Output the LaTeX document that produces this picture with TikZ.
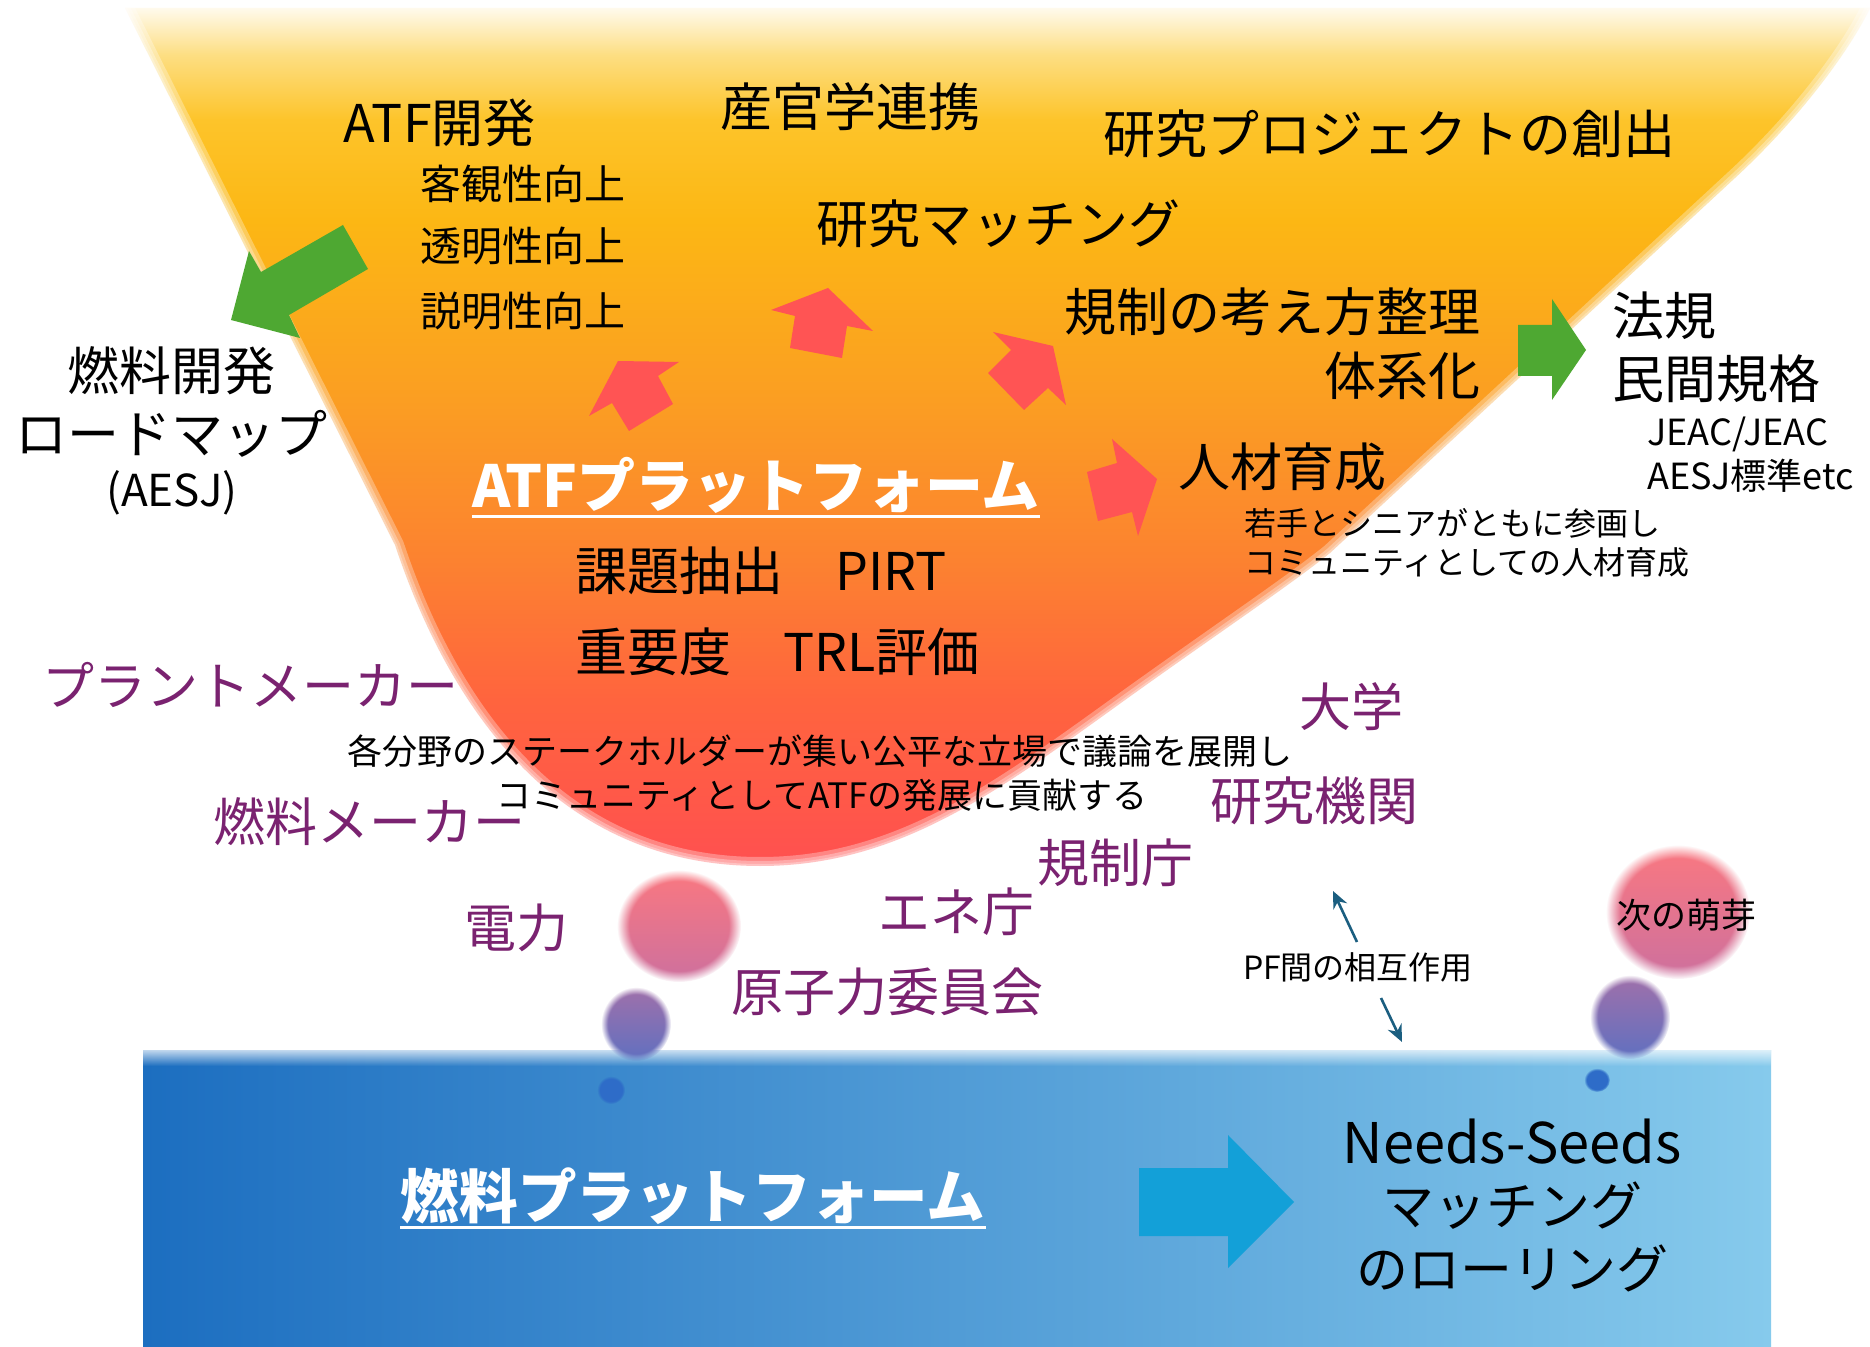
\documentclass[tikz,border=0pt]{standalone}
\usepackage{fontspec}
\setmainfont{Noto Sans CJK JP}
\usetikzlibrary{fadings,arrows.meta}

\definecolor{purp}{RGB}{122,34,112}
\definecolor{redarr}{RGB}{255,84,84}
\definecolor{greenarr}{RGB}{78,168,50}
\definecolor{bluearr}{RGB}{19,160,216}
\definecolor{pfarr}{RGB}{27,94,128}
\definecolor{funA}{RGB}{255,250,236}
\definecolor{funB}{RGB}{253,222,130}
\definecolor{funC}{RGB}{253,196,42}
\definecolor{funD}{RGB}{252,183,20}
\definecolor{funE}{RGB}{251,158,34}
\definecolor{funF}{RGB}{252,130,48}
\definecolor{funG}{RGB}{255,100,62}
\definecolor{funH}{RGB}{255,80,80}
\definecolor{boxL}{RGB}{28,110,192}
\definecolor{boxM}{RGB}{92,158,214}
\definecolor{boxR}{RGB}{134,202,236}
\definecolor{bubPinkT}{RGB}{250,120,128}
\definecolor{bubPinkB}{RGB}{205,112,158}
\definecolor{bubPurT}{RGB}{160,112,170}
\definecolor{bubPurB}{RGB}{96,112,192}
\definecolor{bubDot}{RGB}{46,108,200}

\pgfdeclareverticalshading{funnelshade}{100bp}{color(0bp)=(funH); color(25bp)=(funH); color(34.67bp)=(funG); color(42.83bp)=(funF); color(52.16bp)=(funE); color(62.65bp)=(funD); color(68.47bp)=(funC); color(72.26bp)=(funB); color(75bp)=(funA); color(100bp)=(funA)}

\tikzfading[name=fadeoutdown, top color=transparent!0, bottom color=transparent!100]

\tikzset{
  big/.style={inner sep=0pt, font=\fontsize{26}{30}\selectfont},
  mid/.style={inner sep=0pt, font=\fontsize{20.5}{24}\selectfont},
  small/.style={inner sep=0pt, font=\fontsize{17.5}{21}\selectfont},
  tiny/.style={inner sep=0pt, font=\fontsize{16}{19}\selectfont},
  pur/.style={big, text=purp},
  pftitle/.style={inner sep=0pt, text=white, font=\fontsize{29}{33}\selectfont\bfseries},
  uline/.style={white, line width=1.5pt},
  softedge/.style={draw=white, draw opacity=0.3, line join=round},
  bubble/.style={path fading=circle with fuzzy edge 20 percent},
  pfarrow/.style={draw=pfarr, line width=1.3pt, -{Stealth[length=8.5pt,width=7.5pt]}}
}

\begin{document}
\begin{tikzpicture}[x=0.5pt,y=-0.5pt]
\useasboundingbox (0,0) rectangle (1870,1347);
\fill[white] (0,0) rectangle (1870,1347);

% funnel (ATF platform)
\shade[shading=funnelshade] (125,8) -- (395,545) .. controls (440,680) and (540,866) .. (760,866)
  .. controls (900,866) and (1000,790) .. (1132,695)
  .. controls (1230,625) and (1290,585) .. (1330,553) -- (1735,178)
  .. controls (1800,118) and (1850,50) .. (1870,8) -- cycle;
\foreach \w in {9pt,5pt,2pt}{
\path[softedge, line width=\w] (125,8) -- (395,545) .. controls (440,680) and (540,866) .. (760,866)
  .. controls (900,866) and (1000,790) .. (1132,695)
  .. controls (1230,625) and (1290,585) .. (1330,553) -- (1735,178)
  .. controls (1800,118) and (1850,50) .. (1870,8);
}

% fuel platform box
\shade[left color=boxL, middle color=boxM, right color=boxR] (143,1050) rectangle (1771,1347);
\fill[white, path fading=fadeoutdown] (143,1044) rectangle (1771,1066);

% bubbles
\shade[bubble, top color=bubPinkT, bottom color=bubPinkB] (679,926) ellipse [x radius=31pt, y radius=28pt];
\shade[bubble, top color=bubPurT, bottom color=bubPurB] (636,1024) ellipse [x radius=17.5pt, y radius=18.5pt];
\fill[bubble, bubDot] (611,1090) ellipse [x radius=7pt, y radius=7pt];
\shade[bubble, top color=bubPinkT, bottom color=bubPinkB] (1678,912) ellipse [x radius=36pt, y radius=33.5pt];
\shade[bubble, top color=bubPurT, bottom color=bubPurB] (1630,1017) ellipse [x radius=20pt, y radius=21pt];
\fill[bubble, bubDot] (1597,1080) ellipse [x radius=6.5pt, y radius=6pt];

% red arrows
\fill[redarr] (618,361) -- (679,362) -- (658,376) -- (673,404) -- (629,431) -- (612,403) -- (589,416) -- cycle;
\fill[redarr] (828,288) -- (873,331) -- (847,326) -- (842,358) -- (790,348) -- (795,316) -- (771,310) -- cycle;
\fill[redarr] (993,332) -- (1053,346) -- (1066,405) -- (1048,388) -- (1024,410) -- (988,373) -- (1011,350) -- cycle;
\fill[redarr] (1112,439) -- (1157,479) -- (1138,536) -- (1132,512) -- (1098,521) -- (1087,472) -- (1117,463) -- cycle;

% green arrows
\fill[greenarr] (343,225) -- (368,269) -- (289,315) -- (300,338) -- (231,320) -- (249,251) -- (261,272) -- cycle;
\fill[greenarr] (1518,325) -- (1552,325) -- (1552,299) -- (1586,350) -- (1552,400) -- (1552,376) -- (1518,376) -- cycle;

% blue arrow
\fill[bluearr] (1139,1168) -- (1228,1168) -- (1228,1135) -- (1294,1202) -- (1228,1268) -- (1228,1236) -- (1139,1236) -- cycle;

% upper texts
\node[big, anchor=west] (atfdev) at (343,123) {ATF開発};
\node[big] (sankan) at (850,107) {産官学連携};
\node[big] (proj) at (1389,134) {研究プロジェクトの創出};
\node[mid, anchor=west] (kyakkan) at (420,184) {客観性向上};
\node[mid, anchor=west] (toumei) at (420,246) {透明性向上};
\node[mid, anchor=west] (setsumei) at (420,311) {説明性向上};
\node[big] (matching) at (998,224) {研究マッチング};
\node[big, anchor=east] (kisei) at (1481,312) {規制の考え方整理};
\node[big, anchor=east] (taikei) at (1481,376) {体系化};
\node[big, anchor=west] (houki) at (1612,316) {法規};
\node[big, anchor=west] (minkan) at (1612,379) {民間規格};
\node[inner sep=0pt, font=\fontsize{18}{21}\selectfont, anchor=west] (jeac) at (1647,434) {JEAC/JEAC};
\node[inner sep=0pt, font=\fontsize{18}{21}\selectfont, anchor=west] (aesjstd) at (1647,476) {AESJ標準etc};
\node[big] (nenryo) at (172,371) {燃料開発};
\node[big] (roadmap) at (172,434) {ロードマップ};
\node[inner sep=0pt, font=\fontsize{22}{25}\selectfont] (aesj) at (172,493) {(AESJ)};

% ATF platform
\node[pftitle] (atfpf) at (756,485) {ATFプラットフォーム};
\draw[uline] ([yshift=-1.5pt]atfpf.south west) -- ([yshift=-1.5pt]atfpf.south east);
\node[big, anchor=west] (kadai) at (575,571) {課題抽出　PIRT};
\node[big, anchor=west] (juyou) at (575,652) {重要度　TRL評価};
\node[big, anchor=west] (jinzai) at (1178,467) {人材育成};
\node[tiny, anchor=west] (wakate) at (1244,523) {若手とシニアがともに参画し};
\node[tiny, anchor=west] (comm) at (1244,562) {コミュニティとしての人材育成};

% stakeholders
\node[pur, anchor=west] (plant) at (42,685) {プラントメーカー};
\node[small] (kakubun) at (820,751) {各分野のステークホルダーが集い公平な立場で議論を展開し};
\node[small] (kouken) at (822,795) {コミュニティとしてATFの発展に貢献する};
\node[pur] (fuelmaker) at (369,822) {燃料メーカー};
\node[pur] (daigaku) at (1351,707) {大学};
\node[pur] (kikan) at (1314,801) {研究機関};
\node[pur] (kiseicho) at (1115,863) {規制庁};
\node[pur] (enecho) at (956,912) {エネ庁};
\node[pur] (denryoku) at (516,928) {電力};
\node[pur] (genshi) at (887,992) {原子力委員会};
\node[small] (houga) at (1686,915) {次の萌芽};

% PF interaction
\node[tiny] (pfsougo) at (1358,967) {PF間の相互作用};
\coordinate (upS) at (1357,942);
\coordinate (upE) at (1333,891);
\coordinate (dnS) at (1381,998);
\coordinate (dnE) at (1402,1042);
\draw[pfarrow] (upS) -- (upE);
\draw[pfarrow] (dnS) -- (dnE);

% fuel platform
\node[pftitle, font=\fontsize{29.3}{33}\selectfont\bfseries] (fuelpf) at (693,1196) {燃料プラットフォーム};
\draw[uline] ([yshift=-1.5pt]fuelpf.south west) -- ([yshift=-1.5pt]fuelpf.south east);
\node[inner sep=0pt, font=\fontsize{28}{32}\selectfont] (needs) at (1512,1142) {Needs-Seeds};
\node[big] (matching2) at (1512,1206) {マッチング};
\node[big] (rolling) at (1512,1268) {のローリング};
\end{tikzpicture}
\end{document}
